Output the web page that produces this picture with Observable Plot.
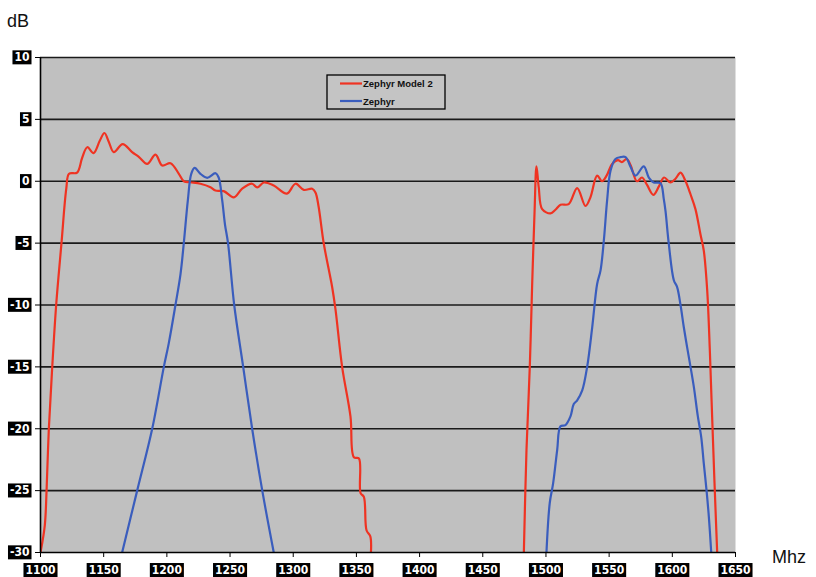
<!DOCTYPE html>
<html><head><meta charset="utf-8">
<script src="https://cdn.jsdelivr.net/npm/d3@7"></script>
<script src="https://cdn.jsdelivr.net/npm/@observablehq/plot@0.6"></script>
<style>body{margin:0;background:#fff;}</style>
</head><body><div id="chart"></div>
<script>
// Zephyr Model 2 – lower band [MHz, dB]
const model2Low = [[1100,-30],[1103.4,-27.8],[1104.8,-25],[1106.6,-20],[1109.3,-15],[1112.4,-10],[1116.6,-5],[1120.4,-0.6],[1122.6,0.6],[1129,0.7],[1133,1.9],[1137,2.75],[1142,2.27],[1147,3.3],[1150.6,3.9],[1154,3.2],[1158,2.35],[1165,3.0],[1172.5,2.35],[1178,1.95],[1184.4,1.4],[1191,2.15],[1196.3,1.27],[1202.9,1.46],[1209.5,0.6],[1213.4,0],[1218.7,-0.08],[1226.6,-0.2],[1234.5,-0.48],[1238.5,-0.75],[1245,-0.8],[1253,-1.3],[1259.6,-0.6],[1267.5,-0.2],[1271.5,-0.5],[1276.7,-0.1],[1284.6,-0.35],[1295,-1.0],[1301.8,-0.2],[1308.4,-0.7],[1315,-0.6],[1317.6,-0.9],[1320,-2.0],[1324.2,-5.05],[1330.8,-8.55],[1333.5,-10.4],[1338.7,-15],[1345.3,-19],[1348,-22.3],[1352,-22.4],[1353.3,-25.2],[1355.9,-25.5],[1358,-28.2],[1361,-28.7],[1361.5,-30]];
// Zephyr Model 2 – upper band
const model2High = [[1482.5,-30],[1484.6,-21.7],[1487.2,-15],[1489.1,-8.3],[1491,-2.4],[1492.5,1.2],[1494.3,-0.5],[1497,-2.25],[1503.6,-2.6],[1507.5,-2.3],[1511.5,-1.9],[1518,-1.85],[1524.7,-0.55],[1531.3,-2.0],[1535.2,-1.3],[1540.5,0.45],[1544.4,0.0],[1548,0.45],[1552.4,1.4],[1557,1.7],[1560,1.55],[1564,1.8],[1567,1.3],[1572,0],[1576,0.3],[1580,-0.3],[1585,-1.1],[1589.5,-0.4],[1593.5,0.3],[1598.5,-0.1],[1602.5,0.2],[1606.5,0.7],[1610.5,0],[1614.4,-1.05],[1618.3,-2.25],[1622.3,-4.3],[1624.9,-5.6],[1627.6,-8.8],[1629.7,-13.7],[1631.5,-19],[1633.4,-24.4],[1635.5,-30]];
// Zephyr – lower band
const zephyrLow = [[1164.6,-30],[1176.5,-25],[1188.4,-20],[1197.6,-15],[1201.5,-13.1],[1206.8,-10],[1210.8,-7.5],[1213.4,-5],[1216.6,-1.55],[1219.3,0.6],[1222,1.08],[1226.6,0.6],[1231.9,0.28],[1238.5,0.65],[1241,0.3],[1243.8,-1.55],[1246,-3.5],[1248.4,-5],[1253.3,-10],[1260.4,-15],[1267.5,-20],[1275.5,-25],[1284.6,-30]];
// Zephyr – upper band
const zephyrHigh = [[1500.4,-30],[1503,-26],[1505.7,-24.4],[1508.9,-21.7],[1511.5,-19.8],[1515.4,-19.7],[1519.4,-19.0],[1522,-18.0],[1524.7,-17.7],[1528.7,-16.9],[1532.6,-15],[1536.6,-11.8],[1540.5,-8.3],[1543.2,-7.2],[1545.8,-4.8],[1548.4,-1.55],[1551.1,0.85],[1555,1.8],[1559,1.95],[1563,1.95],[1567,1.15],[1570.9,0.45],[1577.4,1.2],[1581.4,0.3],[1585.3,-0.1],[1590.6,-0.15],[1593.2,-1.4],[1594.6,-2.4],[1597.2,-5.05],[1601.2,-8.0],[1603.8,-8.55],[1606.5,-10],[1609.1,-11.8],[1611.7,-13.4],[1614.4,-15],[1617,-16.6],[1620.2,-19],[1622.9,-20.7],[1624.9,-22.8],[1627.1,-25],[1628.9,-27.1],[1630.8,-30]];

const seriesNames = ["Zephyr Model 2", "Zephyr"];
const seriesColors = ["#ef3322", "#3a5dbd"];
const xTicks = [1100,1150,1200,1250,1300,1350,1400,1450,1500,1550,1600,1650];
const yTicks = [-30,-25,-20,-15,-10,-5,0,5,10];
const gridValues = [-25,-20,-15,-10,-5,0,5,10];

const rows = [];
function add(arr, s, seg){ arr.forEach(([mhz, db]) => rows.push({mhz, db, series: s, seg})); }
add(model2Low, seriesNames[0], "m2a");
add(model2High, seriesNames[0], "m2b");
add(zephyrLow, seriesNames[1], "za");
add(zephyrHigh, seriesNames[1], "zb");

const chart = Plot.plot({
  width: 816, height: 577,
  marginLeft: 40, marginRight: 81, marginTop: 57, marginBottom: 25,
  x: {domain: [1100, 1650]},
  y: {domain: [-30, 10]},
  color: {domain: seriesNames, range: seriesColors},
  style: {fontFamily: "DejaVu Sans Condensed, DejaVu Sans, sans-serif", fontSize: "12px", fontWeight: "bold", background: "#fff"},
  marks: [
    Plot.frame({fill: "#c0c0c0", stroke: null}),
    Plot.ruleY(gridValues, {stroke: "#1a1a1a", strokeWidth: 1.6}),
    Plot.line(rows, {x: "mhz", y: "db", z: "seg", stroke: "series", strokeWidth: 2.2, curve: "catmull-rom", clip: true}),
    Plot.ruleY([-30], {stroke: "#000", strokeWidth: 1.6}),
    Plot.ruleX([1100], {stroke: "#000", strokeWidth: 1.6}),
    Plot.axisX({ticks: xTicks, tickSize: 5, tickPadding: 8, tickFormat: d => String(d), label: null, stroke: "#000"}),
    Plot.axisY({ticks: yTicks, tickSize: 5, tickPadding: 6, tickFormat: d => String(d), label: null, stroke: "#000"})
  ]
});
document.getElementById("chart").append(chart);

const svg = d3.select(chart);
const ns = "http://www.w3.org/2000/svg";
chart.querySelectorAll('g[aria-label="x-axis tick label"] text, g[aria-label="y-axis tick label"] text').forEach(t => {
  const b = t.getBBox();
  const r = document.createElementNS(ns, "rect");
  const tr = t.getAttribute("transform");
  if (tr) r.setAttribute("transform", tr);
  r.setAttribute("x", b.x - 2);
  r.setAttribute("y", b.y);
  r.setAttribute("width", b.width + 4);
  r.setAttribute("height", b.height);
  r.setAttribute("fill", "#000");
  r.setAttribute("stroke", "none");
  t.parentNode.insertBefore(r, t);
  t.setAttribute("fill", "#fff");
});

// axis titles
svg.append("text").attr("x", 7).attr("y", 27).attr("text-anchor", "start").attr("font-family", "Liberation Sans, Arial, sans-serif")
  .attr("font-size", 18).attr("font-weight", "normal").attr("fill", "#111").text("dB");
svg.append("text").attr("x", 772).attr("y", 563).attr("text-anchor", "start").attr("font-family", "Liberation Sans, Arial, sans-serif")
  .attr("font-size", 18).attr("font-weight", "normal").attr("fill", "#111").text("Mhz");

// legend
const lg = svg.append("g");
lg.append("rect").attr("x", 327).attr("y", 75).attr("width", 118).attr("height", 34)
  .attr("fill", "#c4c4c4").attr("stroke", "#000").attr("stroke-width", 1.3);
seriesNames.forEach((s, i) => {
  const y = 83.5 + i * 17.5;
  lg.append("line").attr("x1", 340).attr("x2", 362).attr("y1", y).attr("y2", y)
    .attr("stroke", seriesColors[i]).attr("stroke-width", 2.2);
  lg.append("text").attr("x", 363).attr("y", y + 3.5).attr("text-anchor", "start").attr("font-family", "Liberation Sans, Arial, sans-serif")
    .attr("font-size", 9.5).attr("font-weight", "bold").attr("fill", "#111").text(s);
});
</script>
</body></html>
